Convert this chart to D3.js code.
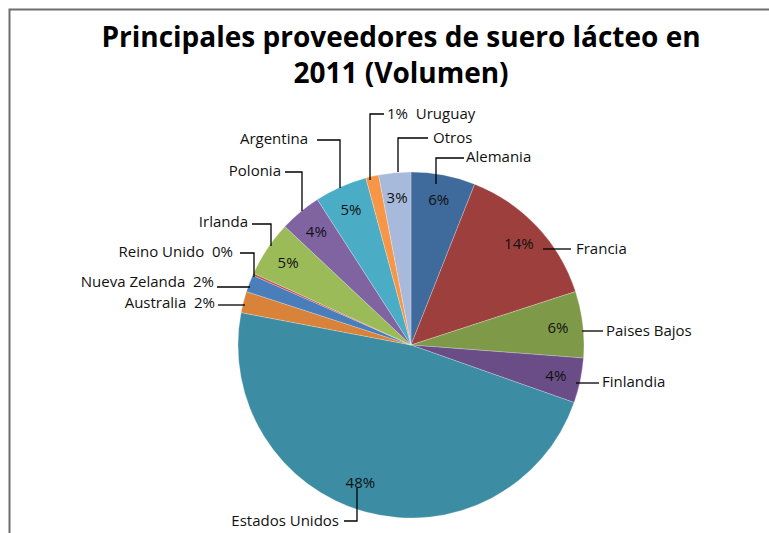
<!DOCTYPE html>
<html>
<head>
<meta charset="utf-8">
<script src="https://cdn.jsdelivr.net/npm/d3@7/dist/d3.min.js"></script>
<style>
  body { margin: 0; background: #fff; }
  svg { display: block; }
</style>
</head>
<body>
<div id="chart"></div>
<script>
// data (share of volume, %)
var countries = ["Alemania", "Francia", "Paises Bajos", "Finlandia", "Estados Unidos",
                 "Australia", "Nueva Zelanda", "Reino Unido", "Irlanda", "Polonia",
                 "Argentina", "Uruguay", "Otros"];
var shares = [6.0, 14.0, 6.2, 4.2, 47.6, 2.0, 1.6, 0.2, 5.2, 3.9, 4.9, 1.2, 3.0];
var colors = ["#3e6a9c", "#9d403d", "#7e9a48", "#6a4d87", "#3c8ca3", "#d8823a", "#4a7ebb",
              "#c0504d", "#9bbb59", "#8064a2", "#4bacc6", "#f79646", "#a8badb"];
var titleLines = ["Principales proveedores de suero lácteo en", "2011 (Volumen)"];

// slices whose name and % sit together outside the pie
var outsideBoth = ["Australia", "Nueva Zelanda", "Reino Unido", "Uruguay"];

// label layout: text anchor point + leader polyline (x,y pairs), optional nudge of the % label
var labelLayout = {
  "Alemania":       {x: 466, y: 157, anchor: "start", line: [[436, 184], [436, 158], [464, 158]]},
  "Francia":        {x: 576, y: 249, anchor: "start", line: [[543, 249], [571, 249]]},
  "Paises Bajos":   {x: 606, y: 331, anchor: "start", line: [[582, 331], [603, 331]]},
  "Finlandia":      {x: 602, y: 382, anchor: "start", line: [[576, 383], [599, 383]]},
  "Estados Unidos": {x: 339, y: 521, anchor: "end",   line: [[357, 488], [357, 521], [344, 521]], nudge: [-12, -5]},
  "Australia":      {x: 215, y: 303, anchor: "end",   line: [[218, 305], [245, 305]]},
  "Nueva Zelanda":  {x: 214, y: 282, anchor: "end",   line: [[217, 287], [250, 287]]},
  "Reino Unido":    {x: 233, y: 252, anchor: "end",   line: [[240, 253], [254, 253], [254, 277]]},
  "Irlanda":        {x: 248, y: 222, anchor: "end",   line: [[252, 224], [271, 224], [271, 246]]},
  "Polonia":        {x: 281, y: 171, anchor: "end",   line: [[285, 172], [302, 172], [302, 211]]},
  "Argentina":      {x: 308, y: 139, anchor: "end",   line: [[317, 140], [340, 140], [340, 188]]},
  "Uruguay":        {x: 387, y: 114, anchor: "start", line: [[384, 114], [370, 114], [370, 180]]},
  "Otros":          {x: 433, y: 138, anchor: "start", line: [[428, 138], [398, 138], [398, 172]]}
};

var W = 769, H = 533;
var cx = 411, cy = 345, radius = 173;

var data = countries.map(function(c, i) { return {name: c, value: shares[i], color: colors[i]}; });

var svg = d3.select("#chart").append("svg")
    .attr("width", W)
    .attr("height", H);

// chart area frame (only top/left visible in the crop)
svg.append("rect")
    .attr("x", 9.5).attr("y", 9.5)
    .attr("width", W + 20).attr("height", H + 20)
    .attr("fill", "none")
    .attr("stroke", "#6e6e6e")
    .attr("stroke-width", 2);

// Title
svg.append("g").selectAll("text")
    .data(titleLines)
    .enter().append("text")
    .attr("x", 401)
    .attr("y", function(d, i) { return 47 + i * 36; })
    .attr("text-anchor", "middle")
    .style("font-family", "'Open Sans', 'Liberation Sans', sans-serif")
    .style("font-weight", "bold")
    .style("font-size", "28px")
    .style("fill", "#000")
    .text(function(d) { return d; });

var pie = d3.pie().sort(null).value(function(d) { return d.value; });
var arcs = pie(data);

var arc = d3.arc().innerRadius(0).outerRadius(radius);
var labelArc = d3.arc().innerRadius(148).outerRadius(148);

var g = svg.append("g").attr("transform", "translate(" + cx + "," + cy + ")");

g.selectAll("path")
    .data(arcs)
    .enter().append("path")
    .attr("d", arc)
    .attr("fill", function(d) { return d.data.color; })
    .attr("stroke", "rgba(255,255,255,0.35)")
    .attr("stroke-width", 0.7);

var fmt = function(v) { return Math.round(v) + "%"; };
var fontFam = "'Open Sans', 'Liberation Sans', sans-serif";
var fontSize = "15px";

// percent labels inside the pie
g.selectAll("text.pct")
    .data(arcs.filter(function(d) { return outsideBoth.indexOf(d.data.name) < 0; }))
    .enter().append("text")
    .attr("class", "pct")
    .attr("transform", function(d) {
      var c = labelArc.centroid(d), n = labelLayout[d.data.name].nudge || [0, 0];
      return "translate(" + (c[0] + n[0]) + "," + (c[1] + n[1]) + ")";
    })
    .attr("dy", "0.35em")
    .attr("text-anchor", "middle")
    .style("font-family", fontFam)
    .style("font-size", fontSize)
    .style("fill", "#111")
    .text(function(d) { return fmt(d.data.value); });

// leader lines
var line = d3.line();
svg.append("g").selectAll("path")
    .data(data)
    .enter().append("path")
    .attr("d", function(d) { return line(labelLayout[d.name].line); })
    .attr("fill", "none")
    .attr("stroke", "#000")
    .attr("stroke-width", 1.3);

// category labels
svg.append("g").selectAll("text")
    .data(data)
    .enter().append("text")
    .attr("x", function(d) { return labelLayout[d.name].x; })
    .attr("y", function(d) { return labelLayout[d.name].y; })
    .attr("dy", "0.35em")
    .attr("text-anchor", function(d) { return labelLayout[d.name].anchor; })
    .style("font-family", fontFam)
    .style("font-size", fontSize)
    .style("fill", "#111")
    .style("white-space", "pre")
    .text(function(d) {
      if (outsideBoth.indexOf(d.name) < 0) return d.name;
      if (d.name === "Uruguay") return fmt(d.value) + "  " + d.name;
      return d.name + "  " + fmt(d.value);
    });
</script>
</body>
</html>
